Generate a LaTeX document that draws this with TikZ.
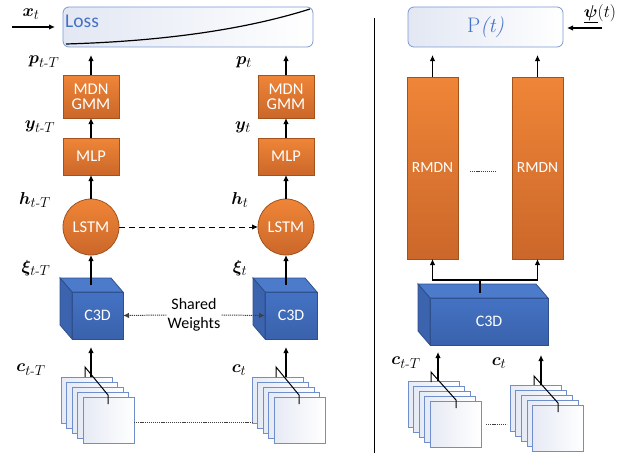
\documentclass[tikz,border=0pt]{standalone}
\usepackage{amsmath}
\usepackage{bm}
\usepackage{fontspec}
\newfontfamily\carl{Carlito}
\usetikzlibrary{arrows.meta,calc}
\definecolor{orT}{HTML}{EF8537}
\definecolor{orB}{HTML}{CB672A}
\definecolor{orD}{HTML}{A4521C}
\definecolor{blF}{HTML}{4472C4}
\definecolor{blF2}{HTML}{3A62AB}
\definecolor{blD}{HTML}{2F4F8A}
\definecolor{blS}{HTML}{3B63AE}
\definecolor{blTop}{HTML}{4C7BCB}
\definecolor{frB}{HTML}{6F8FCC}
\definecolor{frF}{HTML}{E6EAF4}
\definecolor{lossB}{HTML}{7C99D3}
\definecolor{lossF}{HTML}{E2E7F3}
\definecolor{txtB}{HTML}{4472C4}
\definecolor{dotG}{HTML}{404040}
\tikzset{
  arr/.style={line width=1.1pt,-{Latex[length=6pt,width=5.5pt]}},
  orbox/.style={draw=orD,line width=0.8pt,top color=orT,bottom color=orB,text=white,font=\carl\fontsize{16.5}{17}\selectfont,inner sep=0pt,outer sep=0pt,align=center},
  lstm/.style={circle,draw=orD,line width=0.8pt,top color=orT,bottom color=orB,text=white,font=\carl\fontsize{16.5}{17}\selectfont,minimum size=56pt,inner sep=0pt,outer sep=0pt},
  front/.style={draw=blD,line width=0.8pt,top color=blF,bottom color=blF2,text=white,inner sep=0pt,outer sep=0pt},
  topface/.style={draw=blD,line width=0.8pt,fill=blTop},
  sideface/.style={draw=blD,line width=0.8pt,fill=blS},
  framebox/.style={draw=frB,line width=0.8pt,left color=frF,right color=white,minimum width=51pt,minimum height=46pt,inner sep=0pt,outer sep=0pt},
  rbox/.style={draw=lossB,line width=0.8pt,rounded corners=6pt,left color=lossF,right color=white,inner sep=0pt,outer sep=0pt},
  lab/.style={font=\fontsize{19}{21}\selectfont,inner sep=0pt},
  dots/.style={dotG,line width=1pt,dash pattern=on 1.2pt off 0.9pt},
  zig/.style={line width=1pt},
}
\newcommand\mycube[5]{% name, cx, cy, w, h ; offset (-12,-14)
  \node[front,minimum width=#4pt,minimum height=#5pt] (#1) at (#2,#3) {};
  \filldraw[topface] (#1.north west) -- ++(-12,-14) -- ($(#1.north east)+(-12,-14)$) -- (#1.north east) -- cycle;
  \filldraw[sideface] (#1.north west) -- ++(-12,-14) -- ($(#1.south west)+(-12,-14)$) -- (#1.south west) -- cycle;
  \node[text=white,font=\carl\fontsize{16}{17}\selectfont] at (#1.center) {C3D};
}
\newcommand\mystack[5]{% name, x1, y1, dx, dy (frame1 top-left)
  \foreach \i in {1,...,5}{
    \node[framebox] (#1\i) at ({#2+(\i-1)*#4+25.5},{#3+(\i-1)*#5+23}) {};
  }
}
\begin{document}
\begin{tikzpicture}[x=1pt,y=-1pt]
\useasboundingbox (0,0) rectangle (636,460);
% ---------- left panel ----------
\node[rbox,minimum width=250pt,minimum height=40pt] (loss) at (188,27) {};
\node[anchor=west,text=txtB,font=\carl\fontsize{19.5}{20}\selectfont,inner sep=0pt] (losstxt) at (65,21) {Loss};
\draw[line width=1.2pt] (66,44) .. controls (170,41) and (250,28) .. (310,9);
\coordinate (xin) at (12,27);
\draw[arr] (xin) -- (55,27);
\node[lab] (xt) at (31,14) {$\bm{x}_t$};

% columns
\node[orbox,minimum width=56pt,minimum height=43pt] (mdnL) at (91,96.5) {MDN\\[-2pt]GMM};
\node[orbox,minimum width=56pt,minimum height=43pt] (mdnR) at (286,96.5) {MDN\\[-2pt]GMM};
\node[orbox,minimum width=56pt,minimum height=37pt] (mlpL) at (91,156.5) {MLP};
\node[orbox,minimum width=56pt,minimum height=37pt] (mlpR) at (286,156.5) {MLP};
\node[lstm] (lstmL) at (91,227) {LSTM};
\node[lstm] (lstmR) at (286,227) {LSTM};
\mycube{cubeL}{97.5}{315.5}{51}{47}
\mycube{cubeR}{291}{315.5}{52}{47}

\draw[arr] (mdnL.north) -- ++(0,-20);
\draw[arr] (mdnR.north) -- ++(0,-20);
\draw[arr] (mlpL.north) -- (mdnL.south);
\draw[arr] (mlpR.north) -- (mdnR.south);
\draw[arr] (lstmL.north) -- (mlpL.south);
\draw[arr] (lstmR.north) -- (mlpR.south);
\draw[line width=0.9pt,dash pattern=on 6pt off 4pt,-{Latex[length=6pt,width=5.5pt]}] (lstmL.east) -- (lstmR.west);
\coordinate (cubeLtop) at (91,285);
\coordinate (cubeRtop) at (286,285);
\draw[arr] (cubeLtop) -- (lstmL.south);
\draw[arr] (cubeRtop) -- (lstmR.south);

\node[font=\carl\fontsize{16}{19}\selectfont,align=center,inner sep=1pt] (shared) at (194,315) {Shared\\Weights};
\draw[dots,-{Latex[length=6pt,width=5.5pt]}] (shared.west) -- (cubeL.east);
\draw[dots,-{Latex[length=6pt,width=5.5pt]}] (shared.east) -- (cubeR.west);

\node[lab] (pL) at (44,62) {$\bm{p}_{t\text{-}T}$};
\node[lab] (pR) at (244,62) {$\bm{p}_{t}$};
\node[lab] (yL) at (40,127) {$\bm{y}_{t\text{-}T}$};
\node[lab] (yR) at (243,127) {$\bm{y}_{t}$};
\node[lab] (hL) at (35,200) {$\bm{h}_{t\text{-}T}$};
\node[lab] (hR) at (240,200) {$\bm{h}_{t}$};
\node[lab] (xiL) at (36,268) {$\bm{\xi}_{t\text{-}T}$};
\node[lab] (xiR) at (240,268) {$\bm{\xi}_{t}$};
\node[lab] (cL) at (31,370) {$\bm{c}_{t\text{-}T}$};
\node[lab] (cR) at (239,370) {$\bm{c}_{t}$};

% frame stacks
\mystack{sA}{61}{377}{5.5}{5}
\mystack{sB}{252}{377}{5.5}{5}
\draw[zig] (85,377) -- (85,367) -- (108,395) -- (108,404);
\draw[zig] (276,377) -- (276,367) -- (299,395) -- (299,404);
\coordinate (sAtop) at (91,377);
\coordinate (sBtop) at (286,377);
\draw[arr] (sAtop) -- (91,347);
\draw[arr] (sBtop) -- (286,347);
\draw[dots] (sA5.east |- 0,422) -- (sB1.west |- 0,422);

% separator
\coordinate (sepT) at (374,18);
\coordinate (sepB) at (374,453);
\draw[line width=1pt] (sepT) -- (sepB);

% ---------- right panel ----------
\node[rbox,minimum width=155pt,minimum height=40pt,text=txtB,font=\fontsize{21}{22}\selectfont] (P) at (485.5,27) {P\textit{(t)}};
\node[lab] (psi) at (600,14) {$\underline{\bm{\psi}}(t)$};
\coordinate (psiin) at (602,28);
\draw[arr] (psiin) -- (567,28);

\node[orbox,minimum width=51pt,minimum height=182pt,font=\carl\fontsize{15.5}{17}\selectfont] (rL) at (432.5,168) {RMDN};
\node[orbox,minimum width=51pt,minimum height=182pt,font=\carl\fontsize{15.5}{17}\selectfont] (rR) at (537.5,168) {RMDN};
\draw[arr] (rL.north) -- ++(0,-22);
\draw[arr] (rR.north) -- ++(0,-22);
\draw[dots] (470,171) -- (497,171);

\mycube{cubeB}{489}{321.5}{118}{47}
\coordinate (br) at (480,280);
\draw[line width=1.1pt] (480,293) -- (br);
\draw[arr] (br) -| (rL.south);
\draw[arr] (br) -| (rR.south);

\node[lab] (cL2) at (406,363) {$\bm{c}_{t\text{-}T}$};
\node[lab] (cR2) at (499,363) {$\bm{c}_{t}$};

\mystack{sC}{408}{381}{5.5}{5}
\mystack{sD}{510}{385}{5.7}{5}
\draw[zig] (431,382) -- (431,372) -- (456,400) -- (456,408);
\draw[zig] (534,385) -- (534,376) -- (558,403) -- (558,412);
\coordinate (sCtop) at (438,381);
\coordinate (sDtop) at (541,385);
\draw[arr] (sCtop) -- (438,352);
\draw[arr] (sDtop) -- (541,355);
\draw[dots] (486,424) -- (507,424);
\end{tikzpicture}
\end{document}
